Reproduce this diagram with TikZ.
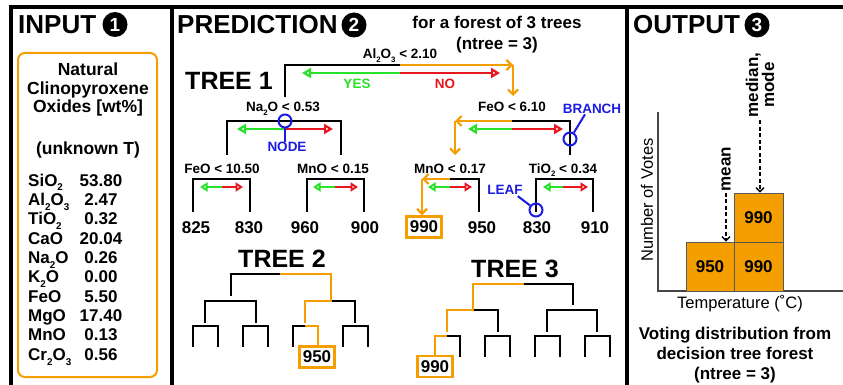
\documentclass[tikz,border=0pt]{standalone}
\usepackage{fontspec}
\usepackage{graphicx}
\setmainfont{Liberation Sans}
\usetikzlibrary{arrows.meta}

\definecolor{fo}{RGB}{245,158,0}
\definecolor{fg}{RGB}{40,225,40}
\definecolor{fr}{RGB}{232,22,30}
\definecolor{fb}{RGB}{28,28,225}
\definecolor{axisgray}{RGB}{70,70,70}

% small, low chemical subscript
\newcommand{\lo}[1]{\raisebox{-0.28em}{\scalebox{0.58}{#1}}}
\newcommand{\fsz}[2]{\fontsize{#1}{#2}\selectfont}

% a black split bracket: name, centre x, top y, left x, right x, bottom y
\newcommand{\tsplit}[6]{%
  \coordinate (#1) at (#2,#3);
  \coordinate (#1-L) at (#4,#6);
  \coordinate (#1-R) at (#5,#6);
  \draw[tline] (#1-L) |- (#1) -| (#1-R);
}
% yes/no arrows under a split: name, centre x, y, left tip x, right tip x, size suffix
\newcommand{\yesno}[6]{%
  \coordinate (#1) at (#2,#3);
  \coordinate (#1-g) at (#4,#3);
  \coordinate (#1-r) at (#5,#3);
  \draw[garr#6] (#1) -- (#1-g);
  \draw[rarr#6] (#1) -- (#1-r);
}

\begin{document}
\begin{tikzpicture}[x=1pt,y=-1pt,
  tline/.style={line width=2.9pt, black},
  oline/.style={line width=2.9pt, fo},
  obarb/.style={oline, -{Straight Barb[length=5pt,width=10pt,line width=2.2pt]}},
  garr/.style={line width=2.6pt, fg, -{Triangle[open,length=9pt,width=10pt,line width=2.2pt]}},
  rarr/.style={line width=2.6pt, fr, -{Triangle[open,length=9pt,width=10pt,line width=2.2pt]}},
  garrs/.style={line width=2.4pt, fg, -{Triangle[open,length=7.5pt,width=9pt,line width=2pt]}},
  rarrs/.style={line width=2.4pt, fr, -{Triangle[open,length=7.5pt,width=9pt,line width=2pt]}},
  frame/.style={line width=3.2pt, black},
  head/.style={font=\bfseries\fsz{26}{30}, inner sep=0, anchor=west},
  num/.style={circle, fill=black, text=white, minimum size=25pt, inner sep=0, font=\bfseries\fsz{19}{20}},
  txt/.style={font=\bfseries\fsz{17}{20}, inner sep=0, anchor=base},
  ttxt/.style={font=\bfseries\fsz{17.5}{20}, inner sep=0, anchor=base},
  lab/.style={font=\bfseries\fsz{13.5}{16}, inner sep=0, anchor=base},
  leaf/.style={font=\bfseries\fsz{17}{20}, inner sep=0, anchor=base},
  treetitle/.style={font=\bfseries\fsz{25}{30}, inner sep=0, anchor=base},
  blbl/.style={font=\bfseries\fsz{13.5}{16}, text=fb, inner sep=0, anchor=base},
  bcirc/.style={draw=fb, circle, line width=2pt, minimum size=13pt, inner sep=0},
  bline/.style={draw=fb, line width=2pt},
  leafbox/.style={draw=fo, line width=2.4pt, fill=white, minimum width=35pt, minimum height=21pt, inner sep=0, font=\bfseries\fsz{17}{20}},
  votebar/.style={draw=black!65, line width=0.9pt, fill=fo, inner sep=0, font=\bfseries\fsz{17}{20}},
  dasharr/.style={line width=1.4pt, black, dash pattern=on 4pt off 2.5pt, -{Straight Barb[length=4pt,width=8pt]}},
]
\useasboundingbox (0,0) rectangle (843,385);
\fill[white] (0,0) rectangle (843,385);

% panel frame
\draw[frame] (9.4,7) -- (843,7);
\draw[frame] (11,7) -- (11,385);
\draw[frame] (172,7) -- (172,385);
\draw[frame] (627,7) -- (627,385);

% ---------- INPUT ----------
\node[head] (hin) at (18,25) {INPUT};
\node[num] (n1) at (115,24.5) {1};
\draw[fo, line width=2pt, rounded corners=7pt] (18,53) rectangle (157,377);
\node[ttxt] (in1) at (88,76) {Natural};
\node[ttxt] (in2) at (88,94.5) {Clinopyroxene};
\node[ttxt] (in3) at (88,113) {Oxides [wt\%]};
\node[ttxt] (in4) at (88,154) {(unknown T)};
\foreach \lab/\val [count=\i from 0] in {SiO\lo{2}/53.80, Al\lo{2}O\lo{3}/2.47, TiO\lo{2}/0.32, CaO/20.04, Na\lo{2}O/0.26, K\lo{2}O/0.00, FeO/5.50, MgO/17.40, MnO/0.13, Cr\lo{2}O\lo{3}/0.56}{
  \node[txt, anchor=base west] (ox\i) at (28,186+19.37*\i) {\lab};
  \node[txt] (val\i) at (101,186+19.37*\i) {\val};
}

% ---------- PREDICTION ----------
\node[head] (hpr) at (177,25) {PREDICTION};
\node[num] (n2) at (354,25) {2};
\node[txt] (for1) at (497,29) {for a forest of 3 trees};
\node[txt] (for2) at (497,50) {(ntree = 3)};

% Tree 1
\node[treetitle] (tt1) at (229,90) {TREE 1};
\node[lab] (la) at (400,59) {Al\lo{2}O\lo{3} < 2.10};
\coordinate (a) at (400,65);
\coordinate (a-L) at (285,97);
\coordinate (a-R) at (513,65);
\coordinate (a-Rb) at (513,96);
\draw[tline] (a-L) |- (a);
\draw[obarb] (a) -- (a-R);
\draw[obarb] (a-R) -- (a-Rb);
\yesno{aA}{400}{73}{302}{500}{}
\node[lab, text=fg] (yes) at (357,89) {YES};
\node[lab, text=fr] (no) at (445,89) {NO};

\node[lab] (lb) at (283,112) {Na\lo{2}O < 0.53};
\tsplit{b}{285}{121}{227}{341}{155}
\yesno{bA}{285}{129}{237}{333}{}

\node[lab] (lc) at (512,112) {FeO < 6.10};
\coordinate (c) at (512,121);
\coordinate (c-L) at (455,121);
\coordinate (c-Lb) at (455,155);
\coordinate (c-R) at (570,155);
\draw[tline] (c) -| (c-R);
\draw[obarb] (c) -- (c-L);
\draw[obarb] (c-L) -- (c-Lb);
\yesno{cA}{512}{129}{468}{563}{}

\node[lab] (ld) at (222,173) {FeO < 10.50};
\tsplit{d}{222}{179}{193}{250}{212}
\yesno{dA}{222}{187}{200}{243}{s}
\node[lab] (le) at (333,173) {MnO < 0.15};
\tsplit{e}{335}{179}{307}{364}{212}
\yesno{eA}{335}{187}{313}{358}{s}
\node[lab] (lf) at (450,173) {MnO < 0.17};
\node[leafbox] (bx1) at (424,227) {990};
\coordinate (f) at (450,179);
\coordinate (f-L) at (422,179);
\coordinate (f-R) at (479,212);
\draw[tline] (f) -| (f-R);
\draw[obarb] (f) -- (f-L);
\draw[obarb] (f-L) -- (f-L |- bx1.north);
\yesno{fA}{450}{187}{428}{472}{s}
\node[lab] (lg) at (563,173) {TiO\lo{2} < 0.34};
\tsplit{g}{563}{179}{536}{593}{212}
\yesno{gA}{563}{187}{543}{588}{s}

\node[leaf] (l1) at (196,233) {825};
\node[leaf] (l2) at (249,233) {830};
\node[leaf] (l3) at (305,233) {960};
\node[leaf] (l4) at (365,233) {900};
\node[leaf] (l6) at (482,233) {950};
\node[leaf] (l7) at (537,233) {830};
\node[leaf] (l8) at (595,233) {910};

% annotations
\node[bcirc] (nodec) at (285,121) {};
\node[blbl] (nodel) at (287,152) {NODE};
\draw[bline] (nodec.south) -- (nodec.south |- nodel.north);
\node[bcirc] (brc) at (570,139) {};
\node[blbl] (brl) at (592,114) {BRANCH};
\draw[bline] (brc) -- ([xshift=-7pt]brl.south);
\node[bcirc] (lfc) at (536,210) {};
\node[blbl] (lfl) at (505,194) {LEAF};
\draw[bline] (lfc) -- ([xshift=-5pt,yshift=-2pt]lfl.south east);

% Tree 2
\node[treetitle] (tt2) at (282,267) {TREE 2};
\coordinate (p) at (280,274);
\coordinate (p-L) at (231,296);
\draw[tline] (p-L) |- (p);
\coordinate (q) at (331,301);
\coordinate (q-R) at (355,323);
\coordinate (q-L) at (305,323);
\draw[tline] (q) -| (q-R);
\draw[oline] (p) -| (q) -| (q-L);
\tsplit{pa}{231}{301}{205}{256}{323}
\tsplit{pb}{205}{326}{193}{218}{347}
\tsplit{pc}{256}{326}{243}{268}{347}
\node[leafbox] (bx2) at (317,357) {950};
\coordinate (pd) at (305,326);
\coordinate (pd-L) at (293,347);
\coordinate (pd-R) at (318,326);
\draw[tline] (pd) -| (pd-L);
\draw[oline] (pd) -| (pd-R |- bx2.north);
\tsplit{pe}{355}{326}{343}{368}{347}

% Tree 3
\node[treetitle] (tt3) at (515,277) {TREE 3};
\coordinate (s) at (524,284);
\coordinate (s-R) at (573,305);
\draw[tline] (s) -| (s-R);
\coordinate (sa) at (473,310);
\coordinate (sa-L) at (447,332);
\coordinate (sa-R) at (498,332);
\draw[tline] (sa) -| (sa-R);
\draw[oline] (s) -| (sa) -| (sa-L);
\tsplit{sb}{573}{310}{547}{597}{332}
\node[leafbox] (bx3) at (435,366.5) {990};
\coordinate (sc) at (447,336);
\coordinate (sc-R) at (460,357);
\coordinate (sc-L) at (435,336);
\draw[tline] (sc) -| (sc-R);
\draw[oline] (sc) -| (sc-L |- bx3.north);
\tsplit{sd}{498}{336}{485}{510}{357}
\tsplit{se}{547}{336}{535}{560}{357}
\tsplit{sf}{597}{336}{585}{610}{357}

% ---------- OUTPUT ----------
\node[head] (hout) at (633,25) {OUTPUT};
\node[num] (n3) at (757,25) {3};
\draw[line width=1.3pt, axisgray] (658,112) -- (658,291) -- (843,291);
\node[votebar, minimum width=48pt, minimum height=49pt] (v950) at (710,266.5) {950};
\node[votebar, minimum width=49pt, minimum height=49pt] (v990a) at (758.5,266.5) {990};
\node[votebar, minimum width=49pt, minimum height=49pt] (v990b) at (758.5,217.5) {990};
\node[font=\fsz{16.5}{20}, rotate=90, inner sep=0] (ylab) at (647,200) {Number of Votes};
\node[font=\fsz{16.5}{20}, anchor=base, inner sep=0] (xlab) at (740,308) {Temperature (˚C)};
\node[font=\bfseries\fsz{17}{20}, rotate=90, inner sep=1.5pt] (mean) at (726,169) {mean};
\draw[dasharr] (mean.west) -- (mean.west |- v950.north);
\node[font=\bfseries\fsz{17}{16}, align=center, rotate=90, inner sep=3pt] (med) at (760,85) {median,\\mode};
\draw[dasharr] (med.west) -- (med.west |- v990b.north);
\node[txt] (cap1) at (735,339) {Voting distribution from};
\node[txt] (cap2) at (735,359) {decision tree forest};
\node[txt] (cap3) at (735,379) {(ntree = 3)};
\end{tikzpicture}
\end{document}
